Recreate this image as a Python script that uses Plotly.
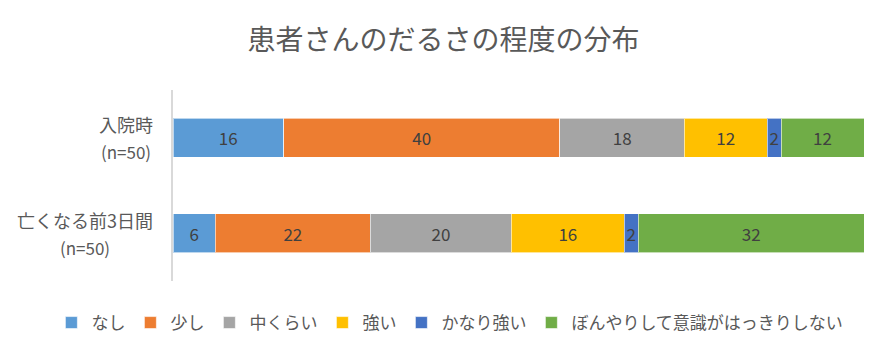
import plotly.graph_objects as go

categories = ["入院時", "亡くなる前3日間"]
sample_sizes = ["(n=50)", "(n=50)"]
series_names = ["なし", "少し", "中くらい", "強い", "かなり強い", "ぼんやりして意識がはっきりしない"]
values_nashi = [16, 6]
values_sukoshi = [40, 22]
values_naka = [18, 20]
values_tsuyoi = [12, 16]
values_kanari = [2, 2]
values_bonyari = [12, 32]
colors = ["#5B9BD5", "#ED7D31", "#A5A5A5", "#FFC000", "#4472C4", "#70AD47"]

all_values = [values_nashi, values_sukoshi, values_naka, values_tsuyoi, values_kanari, values_bonyari]
FONT = "Noto Sans CJK JP"

fig = go.Figure()
for name, vals, col in zip(series_names, all_values, colors):
    fig.add_trace(go.Bar(
        y=categories, x=vals, name=name, orientation="h",
        marker=dict(color=col, line=dict(color="rgba(255,255,255,0.6)", width=1)),
        text=[str(v) for v in vals], textposition="inside",
        insidetextanchor="middle", textangle=0,
        textfont=dict(family=FONT, size=17, color="#404040"),
        constraintext="none",
        hoverinfo="skip",
    ))

# two-line category labels (centered lines, wider line spacing)
for cat, n in zip(categories, sample_sizes):
    fig.add_annotation(
        x=0, xref="paper", y=cat, yref="y", xanchor="right", yanchor="middle",
        xshift=-18, showarrow=False, align="center",
        text=f"<span style='font-size:18px'>{cat}</span><br><span style='font-size:17px'>{n}</span>",
        font=dict(family=FONT, size=21, color="#595959"),
    )

fig.update_layout(
    barmode="stack", barnorm="percent",
    bargap=0.59,
    width=887, height=354,
    margin=dict(l=173, r=23, t=90, b=73, autoexpand=False),
    paper_bgcolor="white", plot_bgcolor="white",
    font=dict(family=FONT, color="#595959"),
    title=dict(text="患者さんのだるさの程度の分布", x=0.5, xref="container", xanchor="center",
               y=(354 - 40) / 354, yanchor="middle", yref="container",
               font=dict(family=FONT, size=28, color="#595959")),
    showlegend=True,
    legend=dict(orientation="h", x=-0.176, xref="paper", xanchor="left",
                y=-0.22, yref="paper", yanchor="middle",
                font=dict(family=FONT, size=17, color="#595959"),
                traceorder="normal", itemwidth=30, tracegroupgap=0),
    uniformtext=dict(mode=False),
)
fig.update_xaxes(visible=False, range=[0, 100], fixedrange=True)
fig.update_yaxes(autorange="reversed", showline=True, linecolor="#D9D9D9", linewidth=2,
                 ticks="", showgrid=False, showticklabels=False)

fig.write_html("out.html")
